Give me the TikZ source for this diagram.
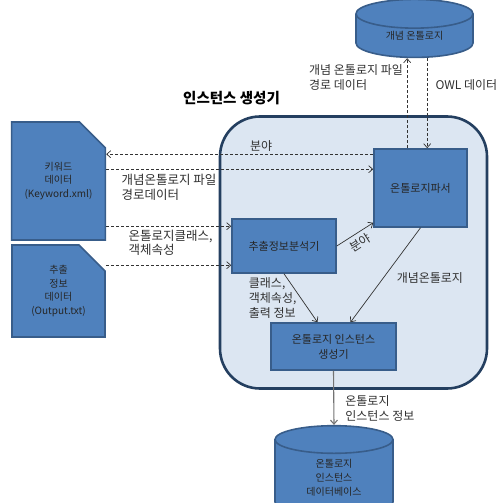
\documentclass[tikz,border=0pt]{standalone}
\usepackage{fontspec}
\setmainfont{Noto Sans CJK KR}
\usetikzlibrary{positioning,arrows.meta,shapes.geometric,shapes.misc}

\definecolor{boxblue}{HTML}{4F81BD}
\definecolor{boxedge}{HTML}{385D8A}
\definecolor{panelfill}{HTML}{DCE6F2}
\definecolor{paneledge}{HTML}{243F60}
\definecolor{labelgray}{HTML}{303030}

\tikzset{
  module/.style={draw=boxedge, line width=1.6pt, fill=boxblue, text=black!85,
    font=\fontsize{11}{15}\selectfont, align=center, inner sep=0pt},
  document/.style={module, font=\fontsize{10}{13.5}\selectfont, chamfered rectangle,
    chamfered rectangle corners=north east,
    chamfered rectangle xsep=13pt, chamfered rectangle ysep=13pt},
  database/.style={module, font=\fontsize{10}{14}\selectfont, cylinder,
    shape border rotate=90, aspect=0.5},
  flowlabel/.style={text=labelgray, font=\fontsize{12}{15}\selectfont, align=left, inner sep=0pt},
  dataflow/.style={dash pattern=on 3pt off 2pt, line width=0.7pt, draw=black!80,
    -{Straight Barb[length=4pt,width=7pt]}},
  callflow/.style={line width=0.7pt, draw=black!80, -{Straight Barb[length=4pt,width=7pt]}},
}

\begin{document}
\begin{tikzpicture}[x=1pt, y=-1pt]
  \useasboundingbox (0,0) rectangle (501,503);

  % instance generator panel
  \node[draw=paneledge, line width=2.6pt, fill=panelfill, rounded corners=40pt,
        minimum width=267pt, minimum height=272pt] (panel) at (353.5,252.5) {};
  \node[font=\bfseries\fontsize{14.5}{16}\selectfont, anchor=west, inner sep=0pt]
        (title) at (183,98) {인스턴스 생성기};

  % modules inside the panel
  \node[module, minimum width=93pt, minimum height=78pt] (parser) at (420.5,188) {온톨로지파서};
  \node[module, minimum width=104pt, minimum height=54pt] (analyzer) at (284,246) {추출정보분석기};
  \node[module, minimum width=125pt, minimum height=47pt] (maker) at (333.5,346.5)
        {온톨로지 인스턴스\\생성기};

  % input documents
  \node[document, minimum width=93pt, minimum height=118pt] (keyword) at (58.5,181)
        {키워드\\데이터\\(Keyword.xml)};
  \node[document, minimum width=93pt, minimum height=92pt] (output) at (58.5,291)
        {추출\\정보\\데이터\\(Output.txt)};

  % stores
  \node[database, minimum width=117pt, minimum height=58pt] (concept) at (414.5,36) {개념 온톨로지};
  \node[database, minimum width=118pt, minimum height=90pt] (instdb) at (334,478)
        {온톨로지\\인스턴스\\데이터베이스};

  % connector end points on the module sides
  \coordinate (parserW1) at ([yshift=-6pt]parser.north west);
  \coordinate (parserW2) at ([yshift=-21pt]parser.north west);
  \coordinate (parserN1) at ([xshift=34pt]parser.north west);
  \coordinate (parserN2) at ([xshift=54pt]parser.north west);
  \coordinate (analyzerW1) at ([yshift=-8pt]analyzer.north west);
  \coordinate (analyzerW2) at ([yshift=-47pt]analyzer.north west);

  % dashed data flows
  \draw[dataflow] (parserW1) -- (parserW1 -| keyword.east)
      node[flowlabel, pos=0.42, above, yshift=2pt] (lblfield) {분야};
  \draw[dataflow] (parserW2 -| keyword.east) -- (parserW2)
      node[flowlabel, pos=0, anchor=west, xshift=15pt, yshift=-18.5pt,
           font=\fontsize{12.5}{15}\selectfont] (lblpath)
      {개념온톨로지 파일\\경로데이터};
  \draw[dataflow] (analyzerW1 -| keyword.east) -- (analyzerW1)
      node[flowlabel, pos=0, anchor=west, xshift=22pt, yshift=-16.5pt,
           font=\fontsize{12.5}{14}\selectfont] (lblclass)
      {온톨로지클래스,\\객체속성};
  \draw[dataflow] (analyzerW2 -| output.east) -- (analyzerW2);
  \draw[dataflow] (parserN1) -- (parserN1 |- concept.south)
      node[flowlabel, pos=0.79, anchor=east, xshift=-4pt] (lblfile)
      {개념 온톨로지 파일\\경로 데이터};
  \draw[dataflow] (parserN2 |- concept.south) -- (parserN2)
      node[flowlabel, pos=0.3, anchor=west, xshift=8pt] (lblowl) {OWL 데이터};

  % solid flows
  \draw[callflow] (analyzer.east) -- ([yshift=5pt]parser.south west)
      node[flowlabel, pos=0.5, sloped, below, yshift=-4pt] (lblfield2) {분야};
  \draw[callflow] (analyzer.south) -- ([xshift=-16pt]maker.north)
      node[flowlabel, pos=0.5, anchor=east, xshift=-4pt] (lblinfo)
      {클래스,\\객체속성,\\출력 정보};
  \draw[callflow] (parser.south) -- ([xshift=17pt]maker.north)
      node[flowlabel, pos=0.53, anchor=west, xshift=13pt] (lblconcept) {개념온톨로지};
  \draw[callflow, draw=black!55, line width=1.1pt] (maker.south) -- (instdb.north)
      node[flowlabel, pos=0.7, anchor=west, xshift=11pt] (lblinst)
      {온톨로지\\인스턴스 정보};

\end{tikzpicture}
\end{document}
